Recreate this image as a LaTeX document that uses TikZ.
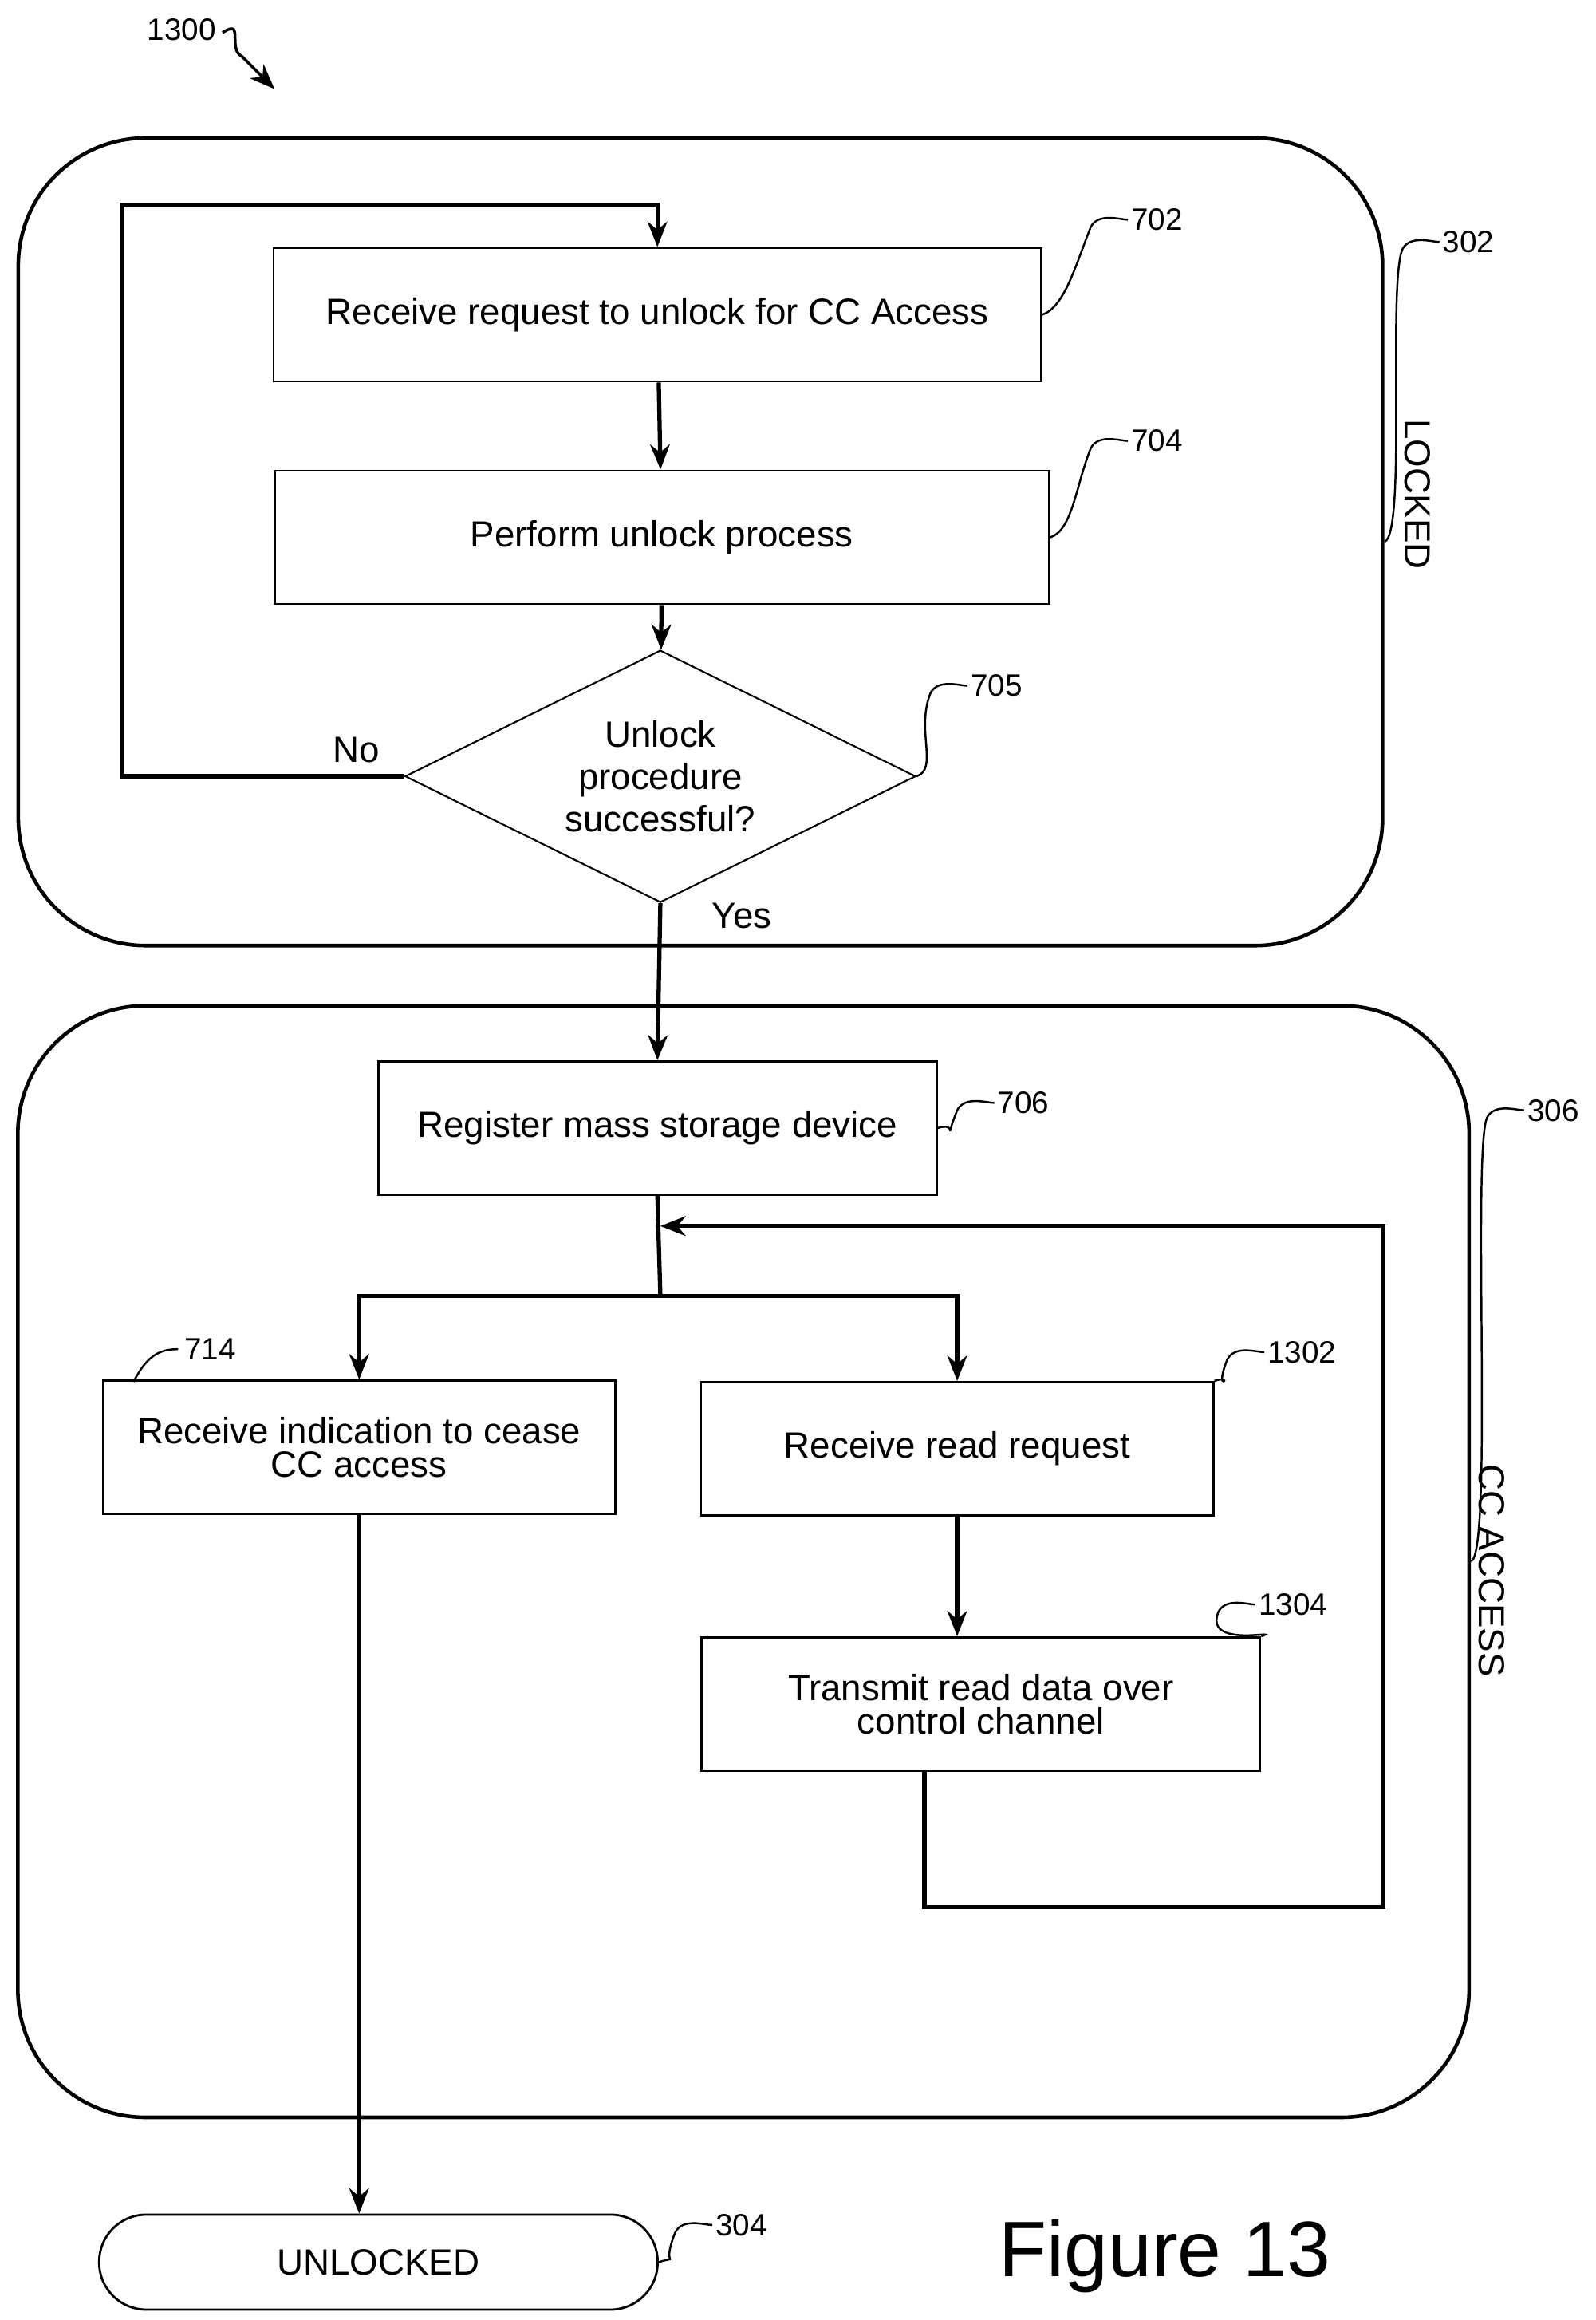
\documentclass[tikz,border=0pt]{standalone}
\usepackage{fontspec}
\setmainfont{Liberation Sans}
\usetikzlibrary{arrows.meta,shapes.geometric,calc}

\tikzset{
    procbox/.style={draw,line width=0.8pt,minimum height=1.67cm,align=center,font=\fontsize{13}{14}\selectfont},
    flow/.style={-{Stealth[length=9pt,width=7pt]},line width=1.5pt},
    plain/.style={line width=1.5pt},
    region/.style={draw,line width=1.3pt,rounded corners=1.6cm},
    refnum/.style={font=\fontsize{11}{12}\selectfont,anchor=west,inner sep=1pt},
    tag/.style={font=\fontsize{13}{14}\selectfont}
}
\newcommand{\leader}[3]{%
    \draw[line width=0.7pt] (#1) .. controls +(15,-5) and +(-10,25) .. ($(#2)+(-25,5)$) .. controls +(5,-10) and +(-5,0) .. (#2);
    \node[refnum] at (#2) {#3};}

\begin{document}
\begin{tikzpicture}[x=0.0186cm,y=-0.0186cm]
    \useasboundingbox (0,0) rectangle (1075,1563);

%%
% state regions
    \node (r302) [region,minimum width=17.1cm,minimum height=10.12cm] at (472,365) {};
    \node (r306) [region,minimum width=18.19cm,minimum height=13.93cm] at (501,1052) {};
    \node (locked) [tag,rotate=-90] at (955,333) {LOCKED};
    \node (ccacc) [tag,rotate=-90] at (1005,1058) {CC ACCESS};

%%
% locked steps
    \node (s702) [procbox,minimum width=9.62cm] at (443,212) {Receive request to unlock for CC Access};
    \node (s704) [procbox,minimum width=9.71cm] at (446,362) {Perform unlock process};
    \node (s705) [draw,diamond,line width=0.6pt,aspect=2,inner sep=0pt,minimum width=6.4cm,minimum height=3.16cm,align=center,font=\fontsize{13}{15}\selectfont] at (445,523) {Unlock\\procedure\\successful?};

%%
% cc access steps
    \node (s706) [procbox,minimum width=7cm] at (443,760) {Register mass storage device};
    \node (s714) [procbox,minimum width=6.42cm,font=\fontsize{13}{12}\selectfont] at (242,975) {Receive indication to cease\\CC access};
    \node (s1302) [procbox,minimum width=6.42cm] at (645,976) {Receive read request};
    \node (s1304) [procbox,minimum width=7cm,font=\fontsize{13}{12}\selectfont] at (661,1148) {Transmit read data over\\control channel};
    \node (s304) [draw,line width=0.8pt,rounded corners=0.59cm,minimum width=7cm,minimum height=1.19cm,font=\fontsize{13}{14}\selectfont] at (255,1524) {UNLOCKED};
    \node (fig) [font=\fontsize{28}{30}\selectfont] at (785,1520) {Figure 13};

%%
% connectors
    \coordinate (noL) at (82,523);
    \coordinate (noT) at (82,138);
    \coordinate (split) at (445,873);
    \coordinate (loopA) at (623,1285);
    \coordinate (loopB) at (932,1285);
    \coordinate (loopC) at (932,826);
    \draw[flow] (s705.west) -- (noL) -- (noT) -- (noT -| s702.north) -- (s702.north);
    \draw[flow] (s702) -- (s704);
    \draw[flow] (s704) -- (s705);
    \draw[flow] (s705.south) -- (s706.north);
    \draw[plain] (s706.south) -- (split);
    \draw[flow] (split) -- (split -| s714) -- (s714.north);
    \draw[flow] (split) -- (split -| s1302) -- (s1302.north);
    \draw[flow] (s1302) -- (s1302 |- s1304.north);
    \draw[flow] (s1304.south -| loopA) -- (loopA) -- (loopB) -- (loopC) -- (loopC -| split);
    \draw[flow] (s714.south) -- (s304.north -| s714);
    \node (no) [tag] at (240,505) {No};
    \node (yes) [tag] at (500,617) {Yes};

%%
% reference numerals
    \leader{s702.east}{760,148}{702}
    \leader{s704.east}{760,297}{704}
    \leader{s705.east}{652,462}{705}
    \leader{s706.east}{670,743}{706}
    \leader{s1302.north east}{852,911}{1302}
    \leader{s1304.north east}{846,1081}{1304}
    \leader{s304.east}{480,1499}{304}
    \leader{r302.east}{970,163}{302}
    \leader{r306.east}{1027,748}{306}
    \draw[line width=0.7pt] (90,931) .. controls +(10,-20) and +(-10,0) .. (120,909);
    \node[refnum] at (122,909) {714};
    \node (n1300) [refnum] at (97,20) {1300};
    \draw[-{Stealth[length=9pt,width=7pt]},line width=1pt] (150,22) .. controls +(15,-10) and +(-10,-5) .. (163,38) -- (185,60);
\end{tikzpicture}
\end{document}
